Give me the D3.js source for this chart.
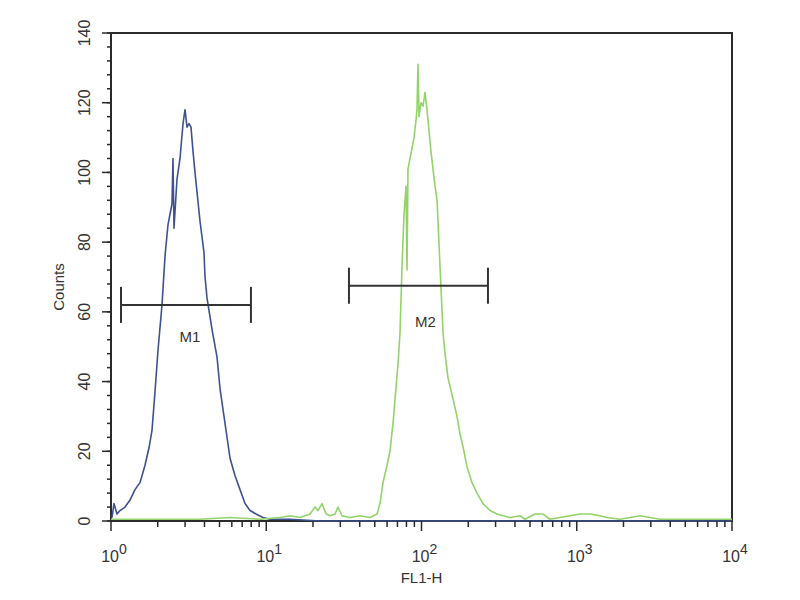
<!DOCTYPE html>
<html><head><meta charset="utf-8">
<script src="https://cdn.jsdelivr.net/npm/d3@7"></script>
<style>body{margin:0;background:#fff}svg{display:block}</style>
</head><body>
<svg id="c" width="800" height="600"></svg>
<script>
// FL1-H channel values and counts
const blueFL1 = [1.015,1.045,1.093,1.143,1.231,1.326,1.427,1.537,1.656,1.757,1.837,1.920,2.008,2.131,2.228,2.329,2.399,2.471,2.508,2.545,2.661,2.783,2.910,2.998,3.088,3.180,3.276,3.375,3.476,3.744,3.972,4.032,4.153,4.473,4.818,5.037,5.425,5.843,6.294,6.778,7.300,7.862,8.590,9.53,10.57,14.2,22.2,72.6,1413,10000];
const blueCounts = [1,5,2,3,4,6,9,11,16,21,26,37,49,62,76,85,88,91,104,84,98,104,114,118,113,114,113,106,100,86,77,70,64,55,47,38,28,18,13,9,5,3,2,1,0.5,0.5,0,0,0,0];
const greenFL1 = [1.000,1.783,3.744,5.843,9.115,12.27,14.22,16.50,19.13,20.61,21.54,22.86,24.26,25.74,27.72,28.99,30.75,34.63,40.17,46.61,51.69,54.04,56.49,59.95,62.68,65.53,67.51,70.58,72.71,74.90,77.16,79.48,80.67,81.85,84.33,86.87,89.49,92.18,93.54,94.95,96.36,99.26,102.3,105.3,108.5,111.8,115.1,118.6,122.2,125.9,131.6,137.6,141.7,148.2,159.6,169.3,177.0,187.8,196.4,211.5,227.8,249.0,276.3,306.4,335.0,371.5,430.9,464.2,538.4,606.2,672.6,904.4,1049,1217,1412,1566,1899,2555,3438,6221,10000];
const greenCounts = [0.5,0.5,0.5,1,0.5,1,1.5,1,2,4,3,5,2,1.5,2,4,1.5,1,1.5,1,2,5,11,16,20,28,35,45,54,73,88,96,72,101,104,107,110,115,118,131,116,120,119,123,118,112,106,101,96,92,73,54,48,41,35,30,25,20,15.5,11,8,5,3,2,1.5,1,1.5,0.5,2,2,0.5,1.5,2,2,1.5,1,0.5,1.5,0.5,0.5,0.5];
const markerNames = ["M1","M2"];
const markerLo = [1.16, 34.1];
const markerHi = [7.97, 268];
const markerCount = [62, 67.5];
const yTicks = [0,20,40,60,80,100,120,140];
const xDecades = [0,1,2,3,4];

const svg = d3.select("#c");
const L = 111, R = 732, T = 33, B = 521;
const x = d3.scaleLog().domain([1,10000]).range([L,R]);
const y = d3.scaleLinear().domain([0,140]).range([B,T]);
const axisCol = "#2a2a2a";
const font = "Liberation Sans, Arial, sans-serif";

// frame
svg.append("rect").attr("x",L).attr("y",T).attr("width",R-L).attr("height",B-T)
  .attr("fill","none").attr("stroke",axisCol).attr("stroke-width",2);

const line = d3.line().x(d=>x(d[0])).y(d=>y(d[1]));
const blue = blueFL1.map((v,i)=>[v,blueCounts[i]]);
const green = greenFL1.map((v,i)=>[v,greenCounts[i]]);
svg.append("path").attr("d",line(blue)).attr("fill","none").attr("stroke","#3d5290").attr("stroke-width",1.6).attr("stroke-linejoin","round");
svg.append("path").attr("d",line(green)).attr("fill","none").attr("stroke","#92d36a").attr("stroke-width",1.6).attr("stroke-linejoin","round");

// y axis
const yMinor = d3.range(0,141,4);
const gy = svg.append("g");
gy.selectAll("line.mi").data(yMinor).join("line")
  .attr("x1",L).attr("x2",L-4).attr("y1",d=>y(d)).attr("y2",d=>y(d)).attr("stroke",axisCol).attr("stroke-width",1.5);
gy.selectAll("line.ma").data(yTicks).join("line")
  .attr("x1",L).attr("x2",L-9).attr("y1",d=>y(d)).attr("y2",d=>y(d)).attr("stroke",axisCol).attr("stroke-width",1.5);
gy.selectAll("text").data(yTicks).join("text")
  .attr("transform",d=>`translate(${L-27},${y(d)}) rotate(-90)`)
  .attr("text-anchor","middle").attr("dy","0.35em")
  .attr("font-family",font).attr("font-size",16).attr("fill","#333").text(d=>d);
svg.append("text").attr("transform",`translate(64,${(T+B)/2+10}) rotate(-90)`)
  .attr("text-anchor","middle").attr("font-family",font).attr("font-size",15).attr("fill","#333").text("Counts");

// x axis
const xMinor = [];
for (let e=0;e<4;e++) for (let m=2;m<=9;m++) xMinor.push(m*Math.pow(10,e));
const gx = svg.append("g");
gx.selectAll("line.mi").data(xMinor).join("line")
  .attr("x1",d=>x(d)).attr("x2",d=>x(d)).attr("y1",B).attr("y2",B+6).attr("stroke",axisCol).attr("stroke-width",1.5);
gx.selectAll("line.ma").data(xDecades).join("line")
  .attr("x1",d=>x(Math.pow(10,d))).attr("x2",d=>x(Math.pow(10,d))).attr("y1",B).attr("y2",B+10).attr("stroke",axisCol).attr("stroke-width",1.5);
const tl = gx.selectAll("text").data(xDecades).join("text")
  .attr("x",d=>x(Math.pow(10,d))+3).attr("y",B+41)
  .attr("text-anchor","middle").attr("font-family",font).attr("font-size",16).attr("fill","#333");
tl.append("tspan").text("10");
tl.append("tspan").attr("dy",-8).attr("font-size",14).text(d=>d);
svg.append("text").attr("x",(L+R)/2).attr("y",583).attr("text-anchor","middle")
  .attr("font-family",font).attr("font-size",15).attr("fill","#333").text("FL1-H");

// markers
markerNames.forEach((n,i)=>{
  const g = svg.append("g").attr("stroke","#333").attr("stroke-width",2);
  const yy = y(markerCount[i]);
  g.append("line").attr("x1",x(markerLo[i])).attr("x2",x(markerHi[i])).attr("y1",yy).attr("y2",yy);
  g.append("line").attr("x1",x(markerLo[i])).attr("x2",x(markerLo[i])).attr("y1",yy-18).attr("y2",yy+18);
  g.append("line").attr("x1",x(markerHi[i])).attr("x2",x(markerHi[i])).attr("y1",yy-18).attr("y2",yy+18);
  svg.append("text").attr("x",(x(markerLo[i])+x(markerHi[i]))/2+4+i*3).attr("y",yy+37+i*4)
    .attr("text-anchor","middle").attr("font-family",font).attr("font-size",15).attr("fill","#333").text(n);
});
</script>
</body></html>
